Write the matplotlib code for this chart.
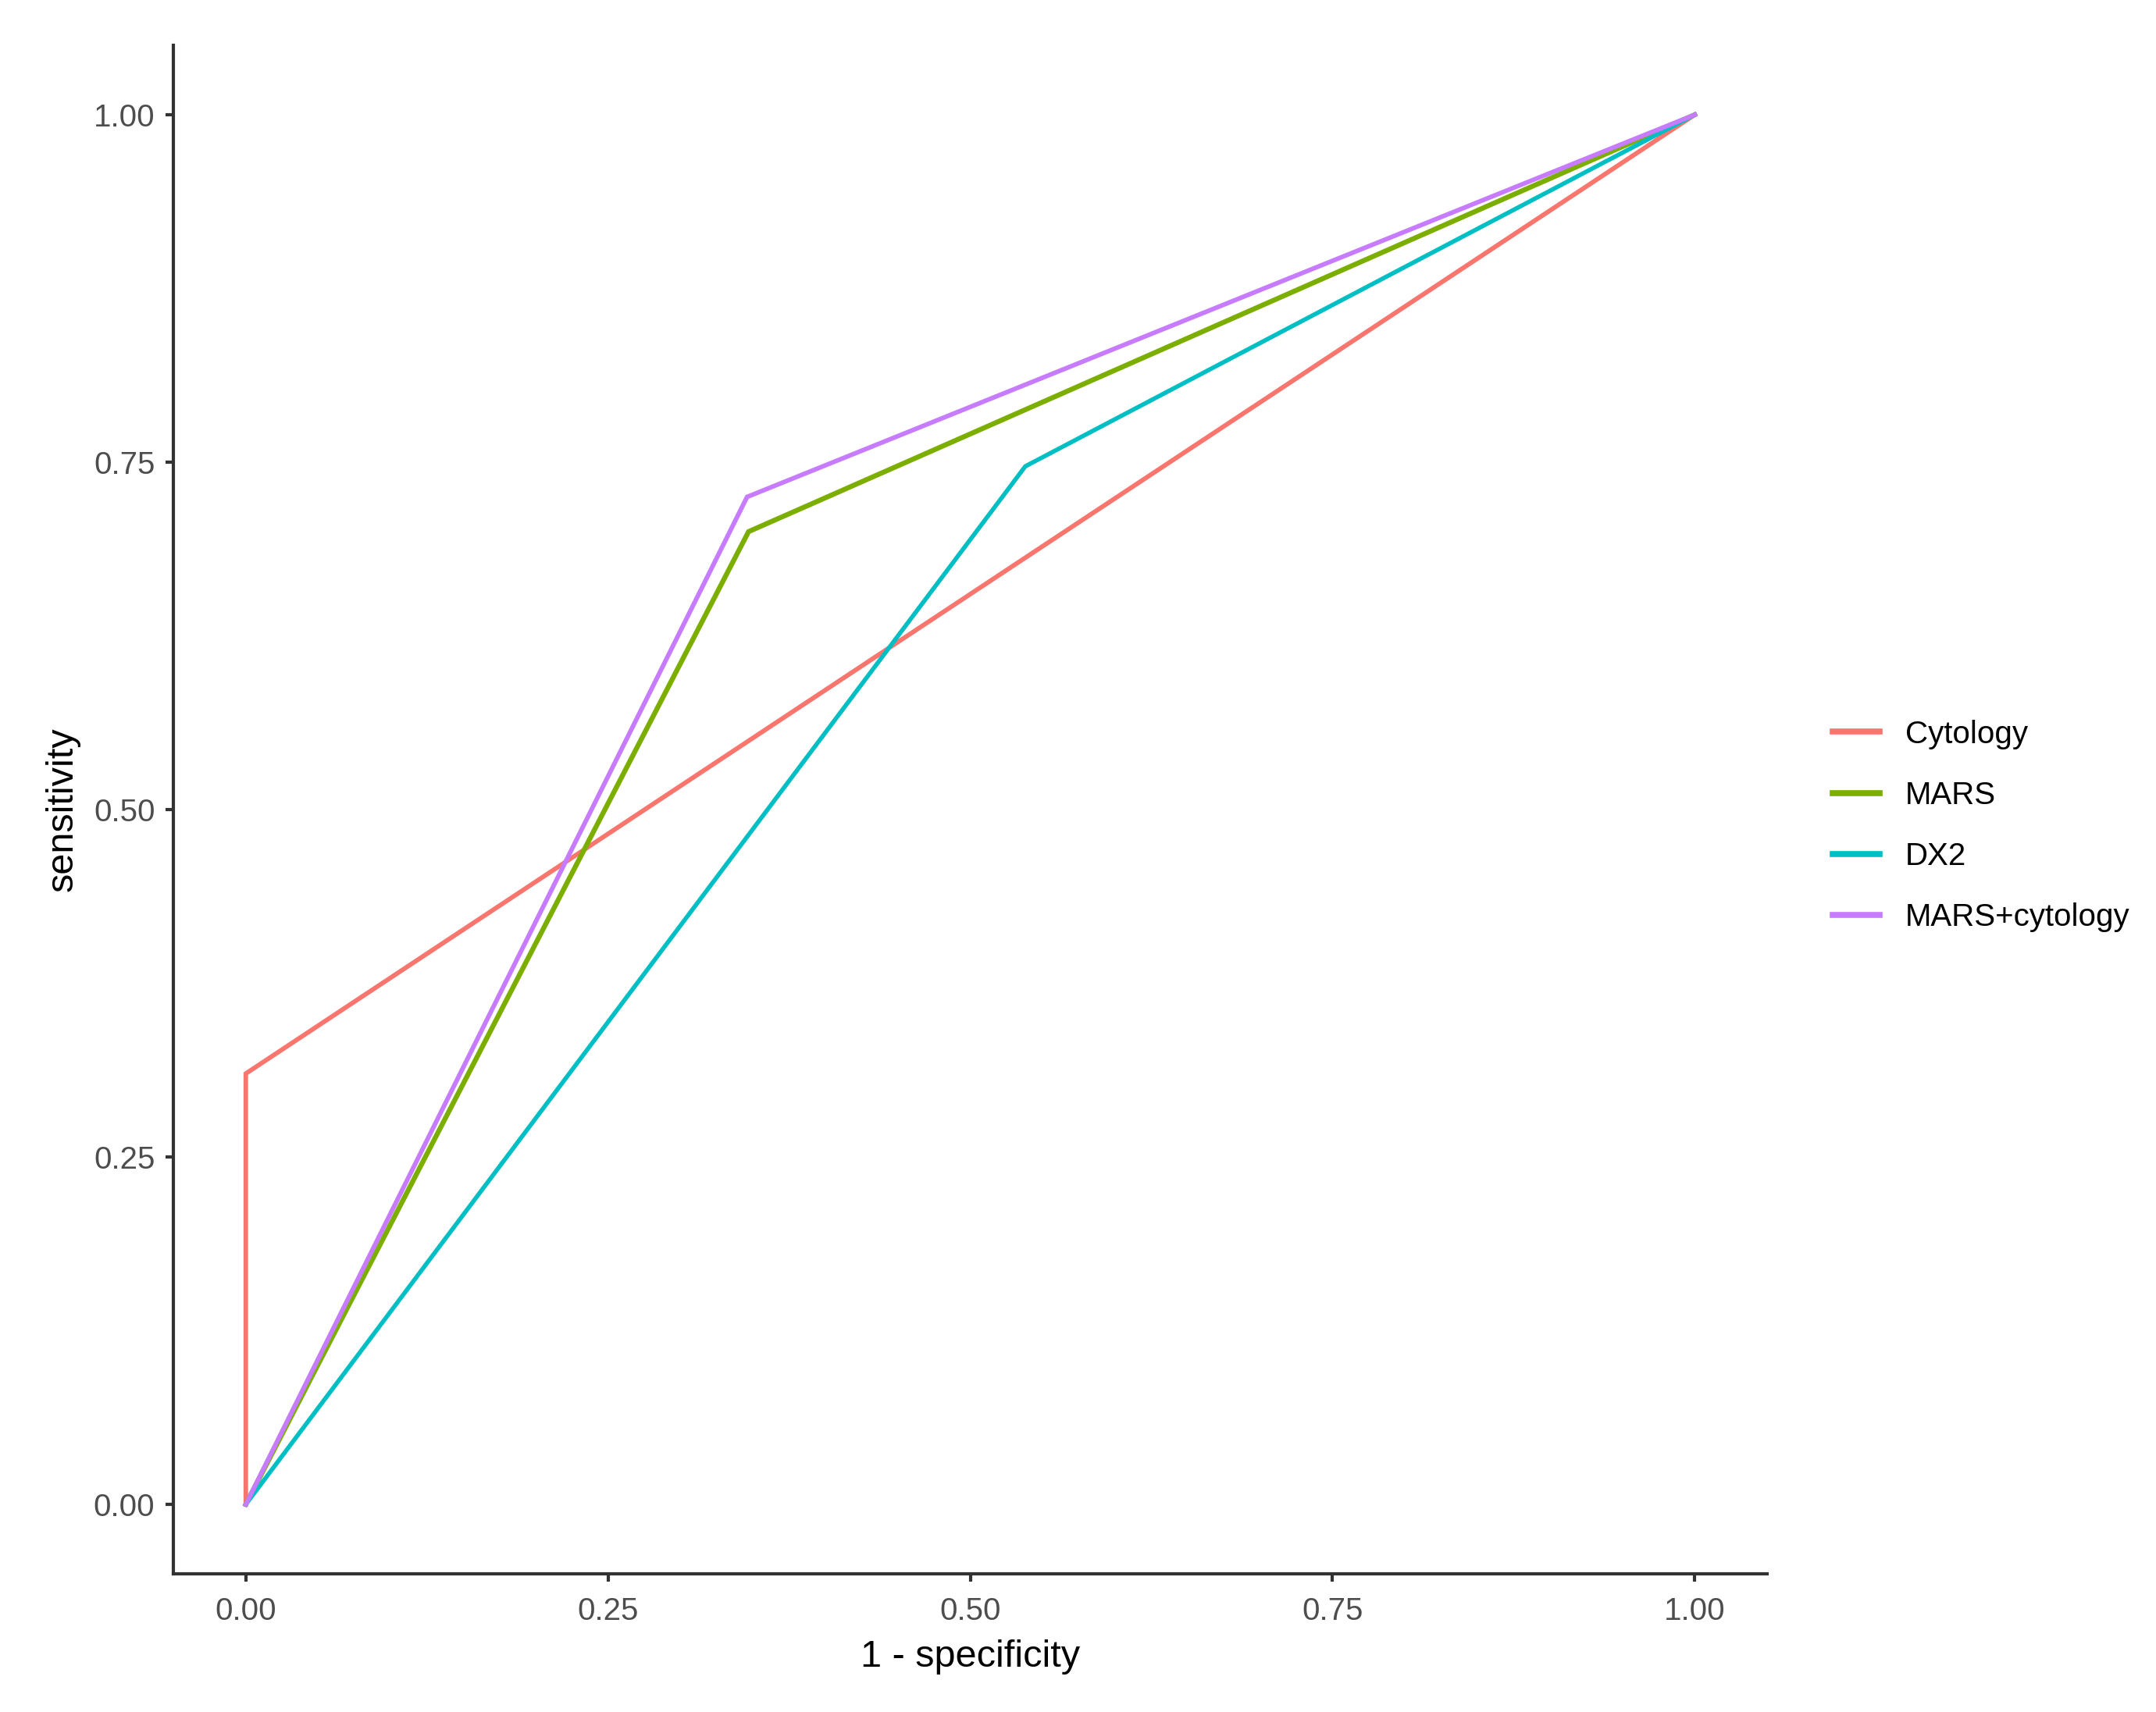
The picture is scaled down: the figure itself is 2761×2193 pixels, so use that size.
import matplotlib
matplotlib.use("Agg")
import matplotlib.pyplot as plt

# ---- data ----
series_names = ["Cytology", "MARS", "DX2", "MARS+cytology"]
series_colors = ["#F8766D", "#7CAE00", "#00BFC4", "#C77CFF"]
fpr_cytology = [0.0, 0.0, 1.0]
tpr_cytology = [0.0, 0.31, 1.0]
fpr_mars = [0.0, 0.347, 1.0]
tpr_mars = [0.0, 0.70, 1.0]
fpr_dx2 = [0.0, 0.538, 1.0]
tpr_dx2 = [0.0, 0.747, 1.0]
fpr_combo = [0.0, 0.346, 1.0]
tpr_combo = [0.0, 0.725, 1.0]
x_ticks = [0.0, 0.25, 0.5, 0.75, 1.0]
x_tick_labels = ["0.00", "0.25", "0.50", "0.75", "1.00"]
y_ticks = [0.0, 0.25, 0.5, 0.75, 1.0]
y_tick_labels = ["0.00", "0.25", "0.50", "0.75", "1.00"]

plt.rcParams['font.family'] = ['Liberation Sans', 'DejaVu Sans']

W, H = 2761, 2193
fig = plt.figure(figsize=(W / 100, H / 100), dpi=100)
fig.patch.set_facecolor("white")
ax = fig.add_axes([222 / W, 1 - 2016 / H, (2263 - 222) / W, (2016 - 58) / H])

xs = [fpr_cytology, fpr_mars, fpr_dx2, fpr_combo]
ys = [tpr_cytology, tpr_mars, tpr_dx2, tpr_combo]
widths = [4.2, 4.6, 4.0, 4.2]
for x, y, name, col, lw in zip(xs, ys, series_names, series_colors, widths):
    ax.plot(x, y, color=col, lw=lw, label=name, solid_joinstyle="miter")

ax.set_xlim(-0.05, 1.05)
ax.set_ylim(-0.05, 1.05)
ax.set_xticks(x_ticks)
ax.set_xticklabels(x_tick_labels)
ax.set_yticks(y_ticks)
ax.set_yticklabels(y_tick_labels)

for s in ["top", "right"]:
    ax.spines[s].set_visible(False)
for s in ["left", "bottom"]:
    ax.spines[s].set_color("#333333")
    ax.spines[s].set_linewidth(3.0)

ax.tick_params(axis="both", direction="out", length=7, width=3.0, color="#333333",
               labelcolor="#4D4D4D", labelsize=29, pad=10)
ax.tick_params(axis="x", pad=14)

ax.set_xlabel("1 - specificity", fontsize=35, color="black", labelpad=12)
ax.set_ylabel("sensitivity", fontsize=35, color="black", labelpad=12)

leg = fig.legend(loc="center left", bbox_to_anchor=(2347 / W, 1 - 1058 / H),
                 frameon=False, fontsize=29, handlelength=1.5, handletextpad=0.8,
                 labelspacing=1.0, borderpad=0, borderaxespad=0)
for line in leg.get_lines():
    line.set_linewidth(5.5)

fig.savefig("out.png", dpi=100, facecolor="white")
